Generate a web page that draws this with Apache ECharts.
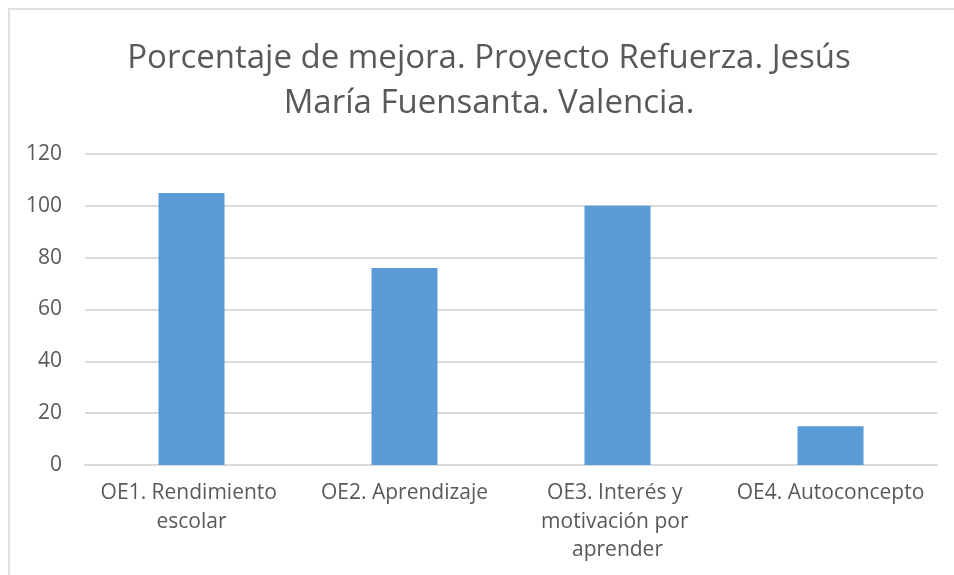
<!DOCTYPE html>
<html>
<head>
<meta charset="utf-8">
<script src="https://cdn.jsdelivr.net/npm/echarts@6/dist/echarts.min.js"></script>
<style>
html,body{margin:0;padding:0;background:#fff;}
#chart{width:954px;height:575px;}
</style>
</head>
<body>
<div id="chart"></div>
<script>
const titleText = 'Porcentaje de mejora. Proyecto Refuerza. Jesús\nMaría Fuensanta. Valencia.';
const categories = ['OE1. Rendimiento escolar', 'OE2. Aprendizaje', 'OE3. Interés y motivación por aprender', 'OE4. Autoconcepto'];
const values = [105, 76, 100, 15];
const yTicks = [0, 20, 40, 60, 80, 100, 120];

const chart = echarts.init(document.getElementById('chart'));
const FONT = 'Open Sans';
chart.setOption({
  animation: false,
  backgroundColor: '#fff',
  graphic: [{
    type: 'rect',
    shape: { x: 9, y: 9, width: 1200, height: 1200 },
    style: { fill: 'none', stroke: '#e0e0e0', lineWidth: 2 },
    silent: true
  }],
  title: {
    text: titleText,
    left: 484,
    top: 31,
    textAlign: 'center',
    textStyle: {
      fontFamily: FONT,
      fontSize: 33,
      fontWeight: 'normal',
      color: '#595959',
      lineHeight: 45
    }
  },
  grid: { left: 85, right: 17, top: 154, bottom: 110, containLabel: false },
  xAxis: {
    type: 'category',
    data: categories,
    axisTick: { show: false },
    axisLine: { lineStyle: { color: '#d9d9d9', width: 2 } },
    axisLabel: {
      interval: 0,
      margin: 14,
      width: 210,
      overflow: 'break',
      fontFamily: FONT,
      fontSize: 21,
      lineHeight: 28.5,
      color: '#595959'
    }
  },
  yAxis: {
    type: 'value',
    min: yTicks[0],
    max: yTicks[yTicks.length - 1],
    interval: yTicks[1] - yTicks[0],
    axisLine: { show: false },
    axisTick: { show: false },
    splitLine: { lineStyle: { color: '#d9d9d9', width: 2 } },
    axisLabel: {
      margin: 23,
      fontFamily: FONT,
      fontSize: 21,
      color: '#595959'
    }
  },
  series: [{
    type: 'bar',
    data: values,
    barWidth: 66,
    itemStyle: { color: '#5B9BD5' }
  }]
});
</script>
</body>
</html>
